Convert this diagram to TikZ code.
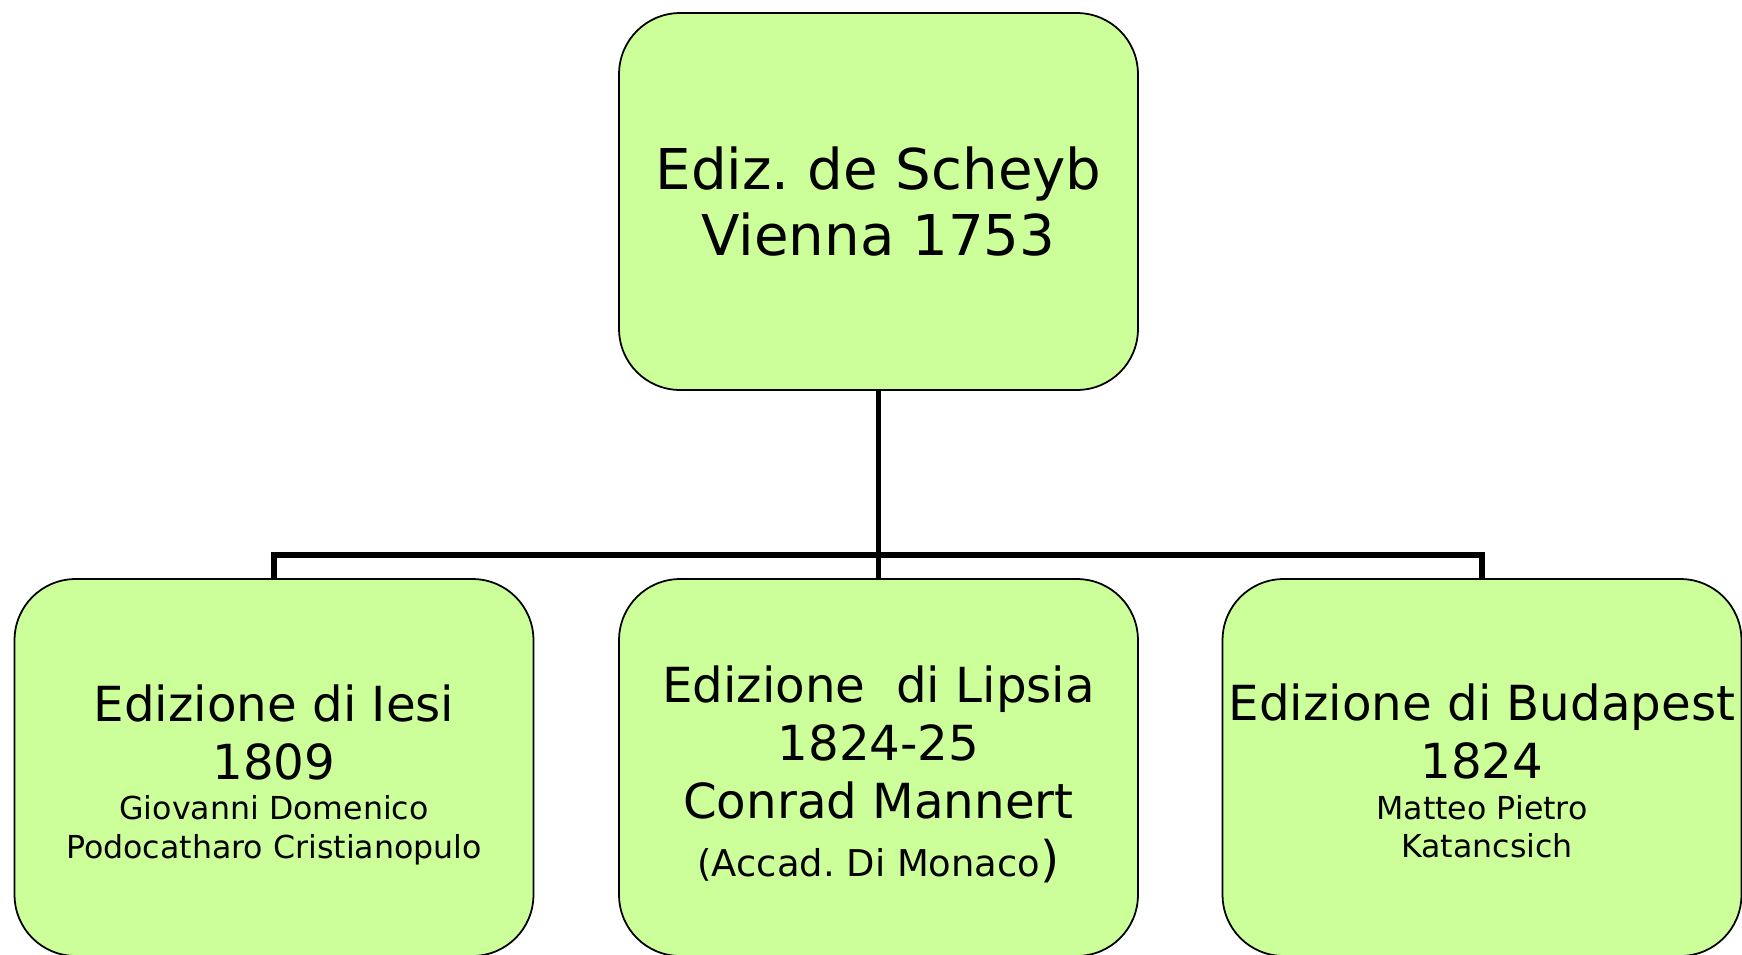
\documentclass[tikz,border=0pt]{standalone}
\usepackage{fontspec}
\setmainfont{DejaVu Sans}
\definecolor{boxgreen}{HTML}{CCFF99}
\frenchspacing

\begin{document}
\begin{tikzpicture}[x=0.02cm, y=-0.02cm,
  edition/.style={draw=black, line width=1pt, fill=boxgreen, rounded corners=1.22cm,
    minimum width=10.38cm, minimum height=7.54cm, inner sep=0pt, align=center},
  big/.style={font=\fontsize{27.5}{33}\selectfont},
  branch/.style={line width=3.2pt}]
\useasboundingbox (0,0) rectangle (1742,954);

\node[edition, font=\fontsize{32}{38}\selectfont] (scheyb) at (878.5,201.5)
  {Ediz. de Scheyb\\Vienna 1753};

\node[edition, big] (iesi) at (274,767.5)
  {\rule{0pt}{29pt}Edizione di Iesi\\1809\\[-10pt]
   \fontsize{18}{22}\selectfont Giovanni Domenico\\[-11pt]
   \fontsize{18}{22}\selectfont Podocatharo Cristianopulo};
\node[edition, big] (lipsia) at (878.5,767.5)
  {\rule{0pt}{29pt}Edizione\ \ di Lipsia\\1824-25\\Conrad Mannert\\[0pt]
   {\fontsize{21}{25}\selectfont (Accad. Di Monaco}{\fontsize{28}{33}\selectfont )}};
\node[edition, big] (budapest) at (1482,767.5)
  {\rule{0pt}{29pt}Edizione di Budapest\\1824\\[-10pt]
   \fontsize{18}{22}\selectfont Matteo Pietro\\[-11pt]
   \fontsize{18}{22}\selectfont \ Katancsich\rule[-4.25pt]{0pt}{0pt}};

\coordinate (bus) at (878.5,555);
\draw[branch] (scheyb.south) -- (bus);
\draw[branch] (iesi.north) -- (iesi.north |- bus) -- (budapest.north |- bus) -- (budapest.north);
\draw[branch] (bus) -- (lipsia.north);
\end{tikzpicture}
\end{document}
